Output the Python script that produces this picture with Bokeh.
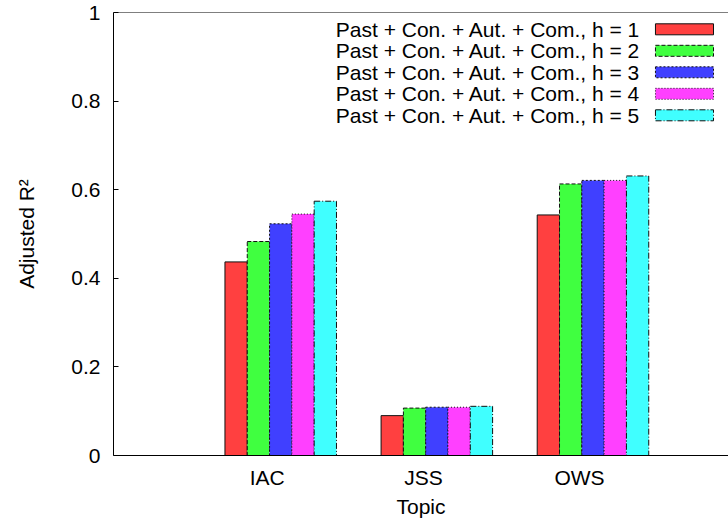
from bokeh.plotting import figure
from bokeh.models import (ColumnDataSource, Range1d, FixedTicker, Span,
                          CustomJSTickFormatter)
from bokeh.core.properties import value
from bokeh.embed import file_html
from bokeh.resources import INLINE

# ---- data ----
topics = ["IAC", "JSS", "OWS"]
series_names = ["Past + Con. + Aut. + Com., h = 1",
                "Past + Con. + Aut. + Com., h = 2",
                "Past + Con. + Aut. + Com., h = 3",
                "Past + Con. + Aut. + Com., h = 4",
                "Past + Con. + Aut. + Com., h = 5"]
h1 = [0.437, 0.090, 0.543]
h2 = [0.483, 0.107, 0.613]
h3 = [0.523, 0.109, 0.621]
h4 = [0.545, 0.109, 0.621]
h5 = [0.574, 0.111, 0.631]
series_values = [h1, h2, h3, h4, h5]
y_ticks = [0, 0.2, 0.4, 0.6, 0.8, 1]

# ---- styles ----
colors = ["#ff4040", "#40ff40", "#4040ff", "#ff40ff", "#40ffff"]
dashes = ["solid", "4 2", "2 2", "1 2", "6 2 1 2"]
FONT = "Liberation Sans"
FS = "21px"

p = figure(width=728, height=523, output_backend="svg", toolbar_location=None,
           x_range=Range1d(-0.985, 2.954), y_range=Range1d(0, 1),
           min_border_left=113, min_border_right=0, min_border_top=12,
           min_border_bottom=68)
p.outline_line_color = None
p.xgrid.visible = False
p.ygrid.visible = False
p.background_fill_color = "white"
p.border_fill_color = "white"

bw = 1.0 / 7
base_off = 0.086
n = len(series_values)
for k, (vals, name) in enumerate(zip(series_values, series_names)):
    off = (k - 2) * bw + base_off
    src = ColumnDataSource(dict(x=[i + off for i in range(len(topics))], top=vals))
    p.vbar(x="x", top="top", width=bw, bottom=0, source=src,
           fill_color=colors[k], line_color="#101010", line_width=1,
           line_dash=dashes[k])

# ---- legend (text left, sample right, like gnuplot) ----
x_text = -0.985 + (640 - 113.5) / 156
x_box0 = -0.985 + (655 - 113.5) / 156
x_box1 = -0.985 + (713 - 113.5) / 156
row0 = 1 - (28.8 - 12) / 443
row_step = 21.5 / 443
box_h = 11 / 443
ys = [row0 - k * row_step for k in range(n)]
p.text(x=[x_text] * n, y=ys, text=series_names, text_align="right",
       text_baseline="middle", text_font=value(FONT), text_font_size=FS,
       text_color="black")
for k in range(n):
    p.quad(left=[x_box0], right=[x_box1], bottom=[ys[k] - box_h / 2],
           top=[ys[k] + box_h / 2], fill_color=colors[k], line_color="#101010",
           line_width=1, line_dash=dashes[k])

# top border
p.add_layout(Span(location=1, dimension="width", line_color="black", line_width=1))

# ---- axes ----
xa = p.xaxis[0]
xa.ticker = FixedTicker(ticks=list(range(len(topics))))
xa.major_label_overrides = {i: t for i, t in enumerate(topics)}
xa.major_tick_line_color = None
xa.minor_tick_line_color = None
xa.axis_line_color = "black"
xa.major_label_text_font = FONT
xa.major_label_text_font_size = FS
xa.major_label_text_color = "black"
xa.major_label_standoff = 4
xa.axis_label = "Topic"
xa.axis_label_text_font = FONT
xa.axis_label_text_font_size = FS
xa.axis_label_text_font_style = "normal"
xa.axis_label_text_color = "black"
xa.axis_label_standoff = 3

ya = p.yaxis[0]
ya.ticker = FixedTicker(ticks=y_ticks)
ya.formatter = CustomJSTickFormatter(code="return String(Math.round(tick*10)/10);")
ya.major_tick_in = 5
ya.major_tick_out = 0
ya.minor_tick_line_color = None
ya.axis_line_color = "black"
ya.major_label_text_font = FONT
ya.major_label_text_font_size = FS
ya.major_label_text_color = "black"
ya.major_label_standoff = 13
ya.axis_label = "Adjusted R²"
ya.axis_label_text_font = FONT
ya.axis_label_text_font_size = FS
ya.axis_label_text_font_style = "normal"
ya.axis_label_text_color = "black"
ya.axis_label_standoff = 30

open("out.html", "w").write(file_html(p, INLINE))
